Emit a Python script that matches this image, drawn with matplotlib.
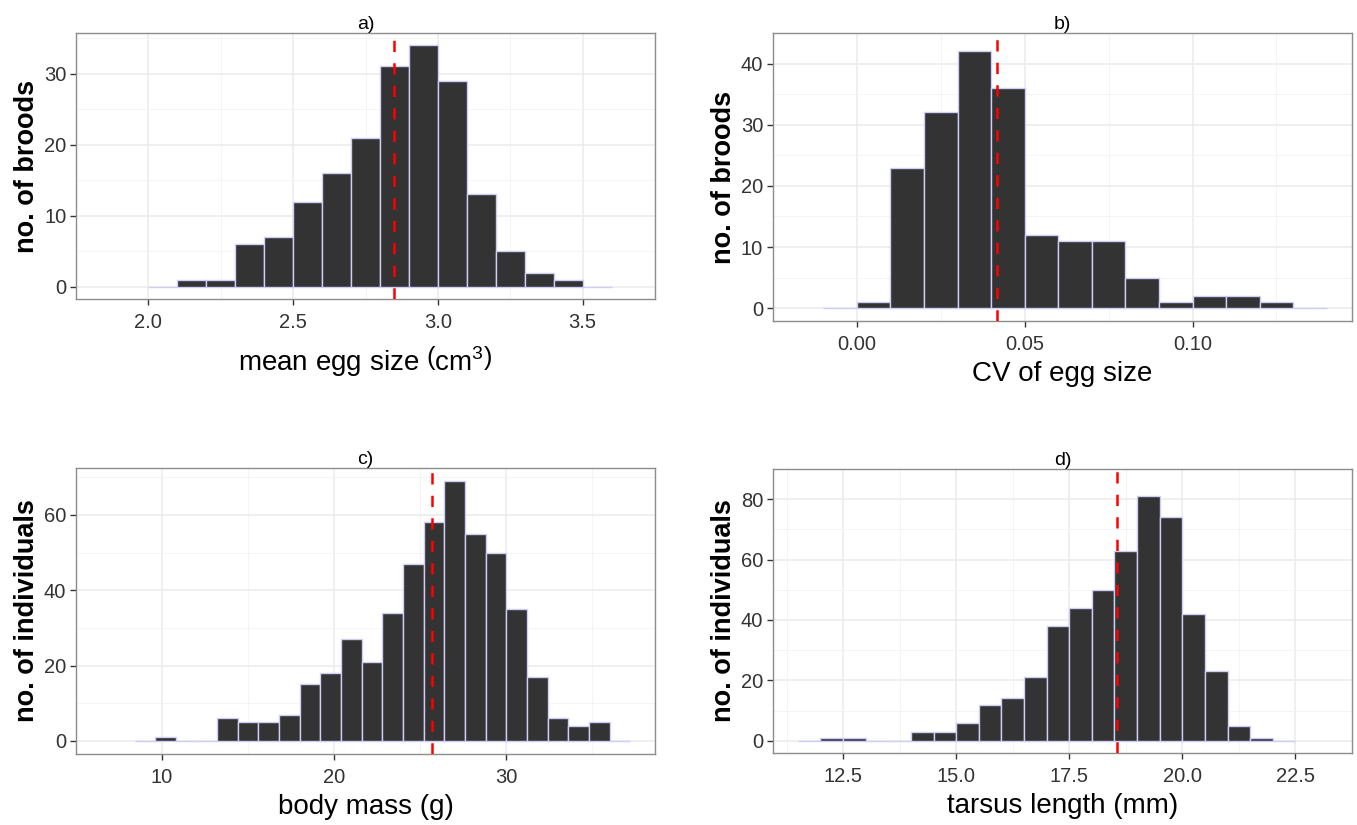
import numpy as np
import matplotlib
matplotlib.use("Agg")
import matplotlib.pyplot as plt

plt.rcParams["font.family"] = ["Liberation Sans", "DejaVu Sans"]
plt.rcParams["mathtext.fontset"] = "custom"
plt.rcParams["mathtext.rm"] = "Liberation Sans"
plt.rcParams["mathtext.it"] = "Liberation Sans:italic"

# ---- data ----
# a) mean egg size (cm3), bins of 0.1 starting at 2.0
EGG_START, EGG_WIDTH = 2.0, 0.1
EGG_COUNTS = [0, 1, 1, 6, 7, 12, 16, 21, 31, 34, 29, 13, 5, 2, 1, 0]
EGG_MEAN = 2.848

# b) CV of egg size, bins of 0.01 starting at -0.01
CV_START, CV_WIDTH = -0.01, 0.01
CV_COUNTS = [0, 1, 23, 32, 42, 36, 12, 11, 11, 5, 1, 2, 2, 1, 0]
CV_MEAN = 0.0417

# c) body mass (g), bins of 1.2 starting at 8.4
MASS_START, MASS_WIDTH = 8.4, 1.2
MASS_COUNTS = [0, 1, 0, 0, 6, 5, 5, 7, 15, 18, 27, 21, 34, 47, 58, 69, 55, 50,
               35, 17, 6, 4, 5, 0]
MASS_MEAN = 25.67

# d) tarsus length (mm), bins of 0.5 starting at 11.5
TARSUS_START, TARSUS_WIDTH = 11.5, 0.5
TARSUS_COUNTS = [0, 1, 1, 0, 0, 3, 3, 6, 12, 14, 21, 38, 44, 50, 63, 81, 74,
                 42, 23, 5, 1, 0]
TARSUS_MEAN = 18.55

PANELS = [
    # title, start, width, counts, mean, xlabel, ylabel, xticks, xticklabels, yticks
    ("a)", EGG_START, EGG_WIDTH, EGG_COUNTS, EGG_MEAN,
     r"mean egg size $\left(\mathrm{cm}^{3}\right)$", "no. of broods",
     [2.0, 2.5, 3.0, 3.5], ["2.0", "2.5", "3.0", "3.5"], [0, 10, 20, 30]),
    ("b)", CV_START, CV_WIDTH, CV_COUNTS, CV_MEAN,
     "CV of egg size", "no. of broods",
     [0.0, 0.05, 0.10], ["0.00", "0.05", "0.10"], [0, 10, 20, 30, 40]),
    ("c)", MASS_START, MASS_WIDTH, MASS_COUNTS, MASS_MEAN,
     "body mass (g)", "no. of individuals",
     [10, 20, 30], ["10", "20", "30"], [0, 20, 40, 60]),
    ("d)", TARSUS_START, TARSUS_WIDTH, TARSUS_COUNTS, TARSUS_MEAN,
     "tarsus length (mm)", "no. of individuals",
     [12.5, 15.0, 17.5, 20.0, 22.5], ["12.5", "15.0", "17.5", "20.0", "22.5"],
     [0, 20, 40, 60, 80]),
]

# axes boxes in figure fractions (left, bottom, width, height)
BOXES = [
    (0.056, 0.6376, 0.4267, 0.3224),
    (0.5696, 0.6109, 0.4267, 0.3491),
    (0.056, 0.0861, 0.4267, 0.3467),
    (0.5696, 0.0873, 0.4267, 0.3442),
]

fig = plt.figure(figsize=(13.57, 8.25), dpi=100)
for i, (box, (title, start, width, counts, mean, xl, yl, xt, xtl, yt)) in enumerate(zip(BOXES, PANELS)):
    ax = fig.add_axes(box)
    counts = np.array(counts)
    edges = start + width * np.arange(len(counts) + 1)
    ax.bar(edges[:-1], counts, width=width, align="edge", color="#333333",
           edgecolor="#cdcdf7", linewidth=1.0, zorder=3)
    ax.axvline(mean, color="red", lw=1.8, dashes=(4.5, 4.5), zorder=4)

    # ggplot-style 5% expansion
    xr = edges[-1] - edges[0]
    ax.set_xlim(edges[0] - 0.05 * xr, edges[-1] + 0.05 * xr)
    ym = counts.max()
    ax.set_ylim(-0.05 * ym, 1.05 * ym)

    ax.set_xticks(xt)
    ax.set_xticklabels(xtl)
    ax.set_yticks(yt)
    xs = np.diff(xt)[0]
    ys = np.diff(yt)[0]
    ax.set_xticks(np.arange(xt[0] - xs / 2, xt[-1] + xs, xs), minor=True)
    ax.set_yticks(np.arange(yt[0] + ys / 2, yt[-1] + ys, ys), minor=True)
    ax.grid(True, which="major", color="#ebebeb", lw=1.1, zorder=0)
    ax.grid(True, which="minor", color="#f4f4f4", lw=0.7, zorder=0)
    ax.set_axisbelow(True)
    ax.tick_params(axis="both", which="major", labelsize=14.5, labelcolor="#333333",
                   color="#333333", length=4, width=1, direction="out")
    ax.tick_params(axis="x", which="major", pad=6)
    ax.tick_params(axis="y", which="major", pad=3)
    ax.tick_params(axis="both", which="minor", length=0)
    for s in ax.spines.values():
        s.set_color("#8c8c8c")
        s.set_linewidth(1.0)

    ax.set_xlabel(xl, fontsize=20, labelpad=9 if i == 0 else 5)
    ax.set_ylabel(yl, fontsize=19.5, fontweight="bold", labelpad=3)
    ax.set_title(title, fontsize=14, pad=2)

fig.savefig("out.png", dpi=100)
